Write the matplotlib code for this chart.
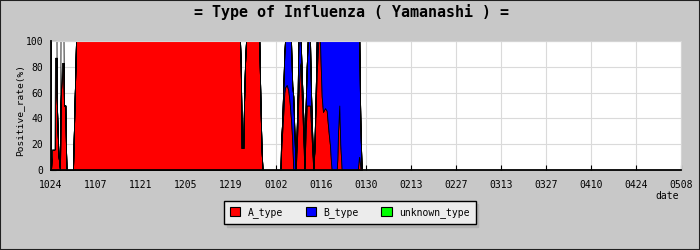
import matplotlib
matplotlib.use("Agg")
import matplotlib.pyplot as plt
import numpy as np
from matplotlib.patches import Patch, Rectangle

plt.rcParams["font.family"] = ["DejaVu Sans Mono", "DejaVu Sans"]

# days counted from 10/24, samples are not evenly spaced
days = [
    0.00, 0.00, 0.31, 1.09, 1.24, 1.71, 1.77, 2.02, 2.33, 2.80,
    2.96, 3.42, 3.89, 4.04, 4.45, 4.67, 4.82, 6.84, 7.00, 7.31,
    7.62, 7.78, 58.80, 59.02, 59.20, 59.33, 59.83, 60.04, 60.36, 60.67,
    64.80, 65.18, 65.49, 65.80, 71.40, 71.56, 71.96, 72.40, 72.58, 72.80,
    73.33, 73.82, 74.26, 74.67, 74.89, 75.07, 75.38, 75.91, 76.13, 76.32,
    76.75, 76.94, 77.47, 77.69, 78.00, 78.50, 78.81, 79.02, 79.55, 79.86,
    80.58, 80.89, 81.29, 81.60, 81.92, 82.35, 82.66, 83.16, 83.69, 83.91,
    84.22, 84.62, 85.24, 85.77, 86.08, 86.49, 86.80, 87.11, 87.33, 88.88,
    89.07, 89.29, 89.69, 90.00, 90.44, 95.42, 95.82, 95.92, 96.13, 96.35,
    96.66,
]
a_type = [
    0, 0, 16, 16, 87, 87, 57, 33, 11, 0,
    50, 83, 83, 50, 50, 16, 0, 0, 17, 50,
    82, 100, 100, 82, 50, 17, 17, 50, 82, 100,
    100, 50, 17, 0, 0, 13, 31, 50, 60, 64,
    66, 62, 52, 39, 30, 21, 0, 0, 0, 10,
    37, 55, 81, 83, 57, 26, 0, 15, 50, 50,
    50, 35, 15, 0, 13, 50, 75, 100, 100, 81,
    57, 45, 48, 46, 37, 26, 19, 6, 0, 0,
    8, 29, 50, 20, 0, 0, 10, 10, 5, 0,
    0,
]
b_type = [
    0, 0, 0, 0, 0, 0, 0, 0, 0, 0,
    0, 0, 0, 0, 0, 0, 0, 0, 0, 0,
    0, 0, 0, 0, 0, 0, 0, 0, 0, 0,
    0, 0, 0, 0, 0, 7, 9, 25, 30, 36,
    34, 38, 48, 61, 50, 44, 57, 15, 0, 10,
    23, 45, 19, 17, 18, 14, 0, 15, 30, 50,
    50, 25, 10, 0, 2, 10, 25, 0, 0, 19,
    43, 55, 52, 54, 63, 74, 81, 94, 100, 100,
    92, 71, 50, 80, 100, 100, 90, 90, 50, 25,
    0,
]
unknown_type = [0] * len(days)
# samples without a typed result (drawn as white outline)
untyped = [
    0, 100, 84, 84, 13, 13, 0, 0, 0, 0,
    50, 17, 17, 0, 0, 0, 0, 0, 0, 0,
] + [0] * 71

tick_days = list(range(0, 197, 14))
tick_labels = ["1024", "1107", "1121", "1205", "1219", "0102", "0116", "0130",
               "0213", "0227", "0313", "0327", "0410", "0424", "0508"]

bg = "#c8c8c8"
fig = plt.figure(figsize=(7, 2.5), dpi=100, facecolor=bg)
ax = fig.add_axes([51 / 700, 80 / 250, 630 / 700, 129 / 250])
ax.set_facecolor("white")

x = np.array(days)
a = np.array(a_type, dtype=float)
b = np.array(b_type, dtype=float)
u = np.array(unknown_type, dtype=float)
o = np.array(untyped, dtype=float)

style = dict(ec="black", lw=0.6, antialiased=False, zorder=2)
ax.fill_between(x, 0, a, fc="#ff0000", **style)
ax.fill_between(x, a, a + b, fc="#0000ff", **style)
ax.fill_between(x, a + b, a + b + u, fc="#00ff00", **style)
ax.fill_between(x, a + b + u, a + b + u + o, fc="white", **style)

ax.set_xlim(0, 196)
ax.set_ylim(0, 100)
ax.set_xticks(tick_days)
ax.set_xticklabels(tick_labels, fontsize=7)
ax.set_yticks(range(0, 101, 20))
ax.set_yticks(range(0, 101, 10), minor=True)
ax.tick_params(axis="y", labelsize=7, pad=5.5)
ax.tick_params(axis="x", pad=7)
ax.tick_params(which="both", direction="in", length=3.5, width=0.8, color="black")

ax.grid(color="#dadada", lw=0.8)
ax.set_axisbelow(True)
for side in ["top", "right"]:
    ax.spines[side].set_color("#d4d4d4")
    ax.spines[side].set_linewidth(0.8)
for side in ["left", "bottom"]:
    ax.spines[side].set_linewidth(1.3)
    ax.spines[side].set_zorder(3)

fig.text(351 / 700, 1 - 12.5 / 250, "= Type of Influenza ( Yamanashi ) =",
         ha="center", va="center", fontsize=10.8, fontweight="bold")
fig.text(20 / 700, 1 - 110 / 250, "Positive_rate(%)", rotation=90,
         ha="center", va="center", fontsize=6.8)
fig.text(679 / 700, 1 - 196 / 250, "date", ha="right", va="center", fontsize=7)

handles = [
    Patch(fc="#ff0000", ec="black", lw=0.8, label="A_type"),
    Patch(fc="#0000ff", ec="black", lw=0.8, label="B_type"),
    Patch(fc="#00ff00", ec="black", lw=0.8, label="unknown_type"),
]
fig.legend(handles=handles, loc="center", bbox_to_anchor=(350 / 700, 1 - 212.5 / 250),
           ncol=3, fontsize=7, frameon=True, fancybox=False, edgecolor="black",
           facecolor="#ececec", framealpha=1, handlelength=1.05, handleheight=1.05,
           handletextpad=0.8, columnspacing=2.3, borderpad=0.6, borderaxespad=0,
           shadow={"color": "#b2b2b2", "alpha": 1})
fig.legends[0].get_frame().set_linewidth(1.0)

fig.add_artist(Rectangle((0, 0), 1, 1, transform=fig.transFigure, fill=False,
                         ec="#202020", lw=1.5))

fig.savefig("out.png", dpi=100, facecolor=bg)
